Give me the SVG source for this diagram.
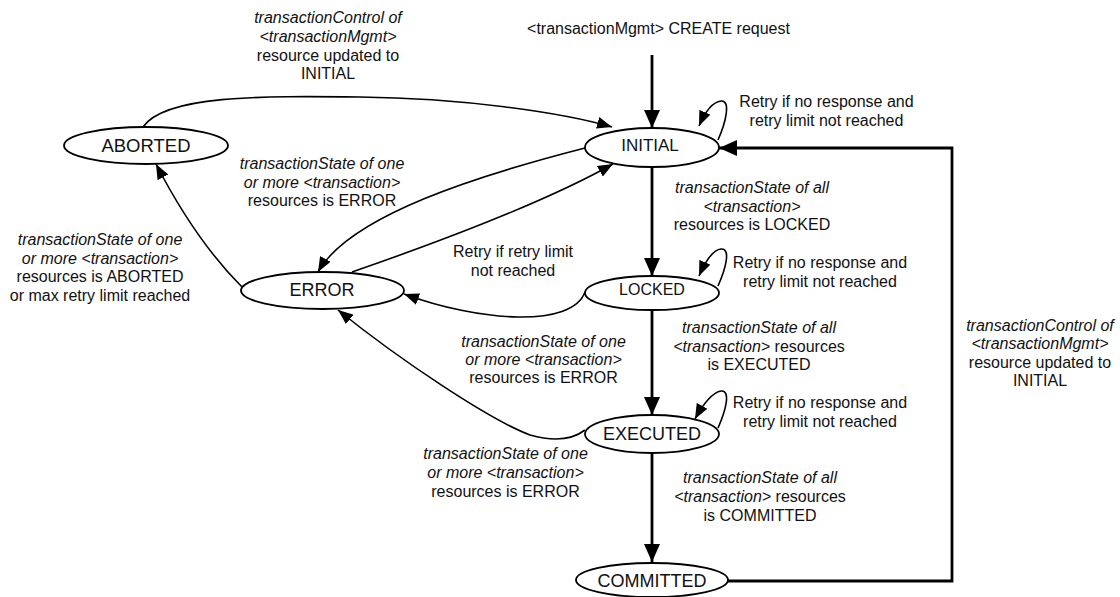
<svg xmlns="http://www.w3.org/2000/svg" width="1120" height="597" viewBox="0 0 1120 597">
<style>
.node ellipse{fill:#fff;stroke:#000;stroke-width:1.8}
text{font-family:"Liberation Sans",Arial,sans-serif;text-anchor:middle;fill:#111}
.nl{font-size:18px}
.el{font-size:16px}
.i{font-style:italic}
.thin{fill:none;stroke:#000;stroke-width:1.6;marker-end:url(#ah)}
.thick{fill:none;stroke:#000;stroke-width:2.8;marker-end:url(#ahb)}
</style>
<defs>
<marker id="ah" markerUnits="userSpaceOnUse" markerWidth="15" markerHeight="12" refX="15" refY="6" orient="auto"><path d="M0,0 L15,6 L0,12 z" fill="#000"/></marker>
<marker id="ahb" markerUnits="userSpaceOnUse" markerWidth="18" markerHeight="16" refX="18" refY="8" orient="auto"><path d="M0,0 L18,8 L0,16 z" fill="#000"/></marker>
</defs>
<g id="connectors">
<path class="thick" d="M652,55 L652,128"/>
<path class="thin" d="M718,140 C726,122 731,100 721,101 C713,102 705,112 699,126"/>
<path class="thin" d="M143,127 C165,95 260,96 360,97 C460,98 560,112 612,127"/>
<path class="thin" d="M585,148 C480,175 350,215 318,272"/>
<path class="thin" d="M352,272 C430,245 540,205 613,164"/>
<path class="thick" d="M652,167 L652,276"/>
<path class="thin" d="M718,286 C726,268 731,248 721,249 C713,250 705,262 699,276"/>
<path class="thin" d="M585,292 C572,328 480,322 404,294"/>
<path class="thick" d="M652,310 L652,415"/>
<path class="thin" d="M718,428 C726,410 731,390 721,391 C713,392 703,404 695,419"/>
<path class="thin" d="M585,430 C572,440 555,442 530,435 C490,420 400,360 338,310"/>
<path class="thin" d="M242,287 C215,260 185,220 156,164"/>
<path class="thick" d="M652,453 L652,562"/>
<path class="thick" d="M728,581 L952,581 L952,148 L719,148"/>
</g>
<g id="labels" class="el">
<text x="328" y="23" class="i">transactionControl of</text>
<text x="328" y="42" class="i">&lt;transactionMgmt&gt;</text>
<text x="328" y="61">resource updated to</text>
<text x="328" y="79">INITIAL</text>
<text x="658.5" y="34">&lt;transactionMgmt&gt; CREATE request</text>
<text x="826.5" y="107">Retry if no response and</text>
<text x="826.5" y="126">retry limit not reached</text>
<text x="322" y="169" class="i">transactionState of one</text>
<text x="322" y="187.5" class="i">or more &lt;transaction&gt;</text>
<text x="322" y="206">resources is ERROR</text>
<text x="100" y="245" class="i">transactionState of one</text>
<text x="100" y="264" class="i">or more &lt;transaction&gt;</text>
<text x="100" y="282">resources is ABORTED</text>
<text x="100" y="301">or max retry limit reached</text>
<text x="513" y="257">Retry if retry limit</text>
<text x="513" y="276">not reached</text>
<text x="752" y="193" class="i">transactionState of all</text>
<text x="752" y="212" class="i">&lt;transaction&gt;</text>
<text x="752" y="230">resources is LOCKED</text>
<text x="820" y="268">Retry if no response and</text>
<text x="820" y="287">retry limit not reached</text>
<text x="543.5" y="347" class="i">transactionState of one</text>
<text x="543.5" y="365" class="i">or more &lt;transaction&gt;</text>
<text x="543.5" y="383">resources is ERROR</text>
<text x="759" y="333" class="i">transactionState of all</text>
<text x="759" y="352"><tspan class="i">&lt;transaction&gt;</tspan> resources</text>
<text x="759" y="370">is EXECUTED</text>
<text x="820" y="408">Retry if no response and</text>
<text x="820" y="427">retry limit not reached</text>
<text x="505.5" y="459" class="i">transactionState of one</text>
<text x="505.5" y="478" class="i">or more &lt;transaction&gt;</text>
<text x="505.5" y="497">resources is ERROR</text>
<text x="760" y="483" class="i">transactionState of all</text>
<text x="760" y="502"><tspan class="i">&lt;transaction&gt;</tspan> resources</text>
<text x="760" y="521">is COMMITTED</text>
<text x="1040" y="331" class="i">transactionControl of</text>
<text x="1040" y="349" class="i">&lt;transactionMgmt&gt;</text>
<text x="1040" y="368">resource updated to</text>
<text x="1040" y="386">INITIAL</text>
</g>
<g id="ABORTED" class="node"><ellipse cx="146" cy="145.5" rx="82" ry="18.5"/><text class="nl" x="146" y="152" style="font-size:18.5px">ABORTED</text></g>
<g id="INITIAL" class="node"><ellipse cx="652" cy="147.5" rx="67" ry="19.5"/><text class="nl" x="650" y="151" style="font-size:17px">INITIAL</text></g>
<g id="ERROR" class="node"><ellipse cx="322.5" cy="290.5" rx="81.5" ry="18.5"/><text class="nl" x="322" y="296">ERROR</text></g>
<g id="LOCKED" class="node"><ellipse cx="652" cy="293" rx="67" ry="17"/><text class="nl" x="652" y="295" style="font-size:16px">LOCKED</text></g>
<g id="EXECUTED" class="node"><ellipse cx="652" cy="434" rx="67" ry="19"/><text class="nl" x="652" y="440">EXECUTED</text></g>
<g id="COMMITTED" class="node"><ellipse cx="652" cy="580" rx="76" ry="17"/><text class="nl" x="652" y="587">COMMITTED</text></g>
</svg>
